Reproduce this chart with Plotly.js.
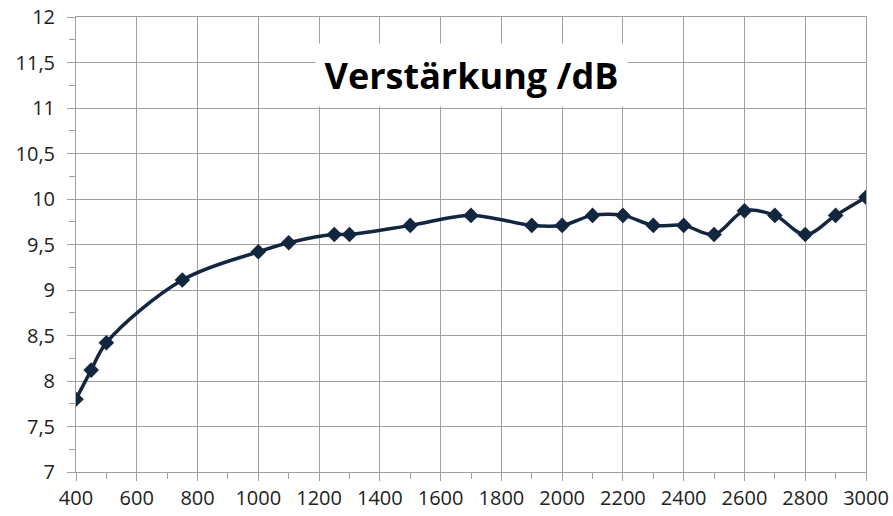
<!DOCTYPE html>
<html>
<head>
<meta charset="utf-8">
<script src="https://cdn.plot.ly/plotly-3.0.1.min.js"></script>
<style>html,body{margin:0;padding:0;background:#fff;}#chart{width:893px;height:516px;}</style>
</head>
<body>
<div id="chart"></div>
<script>
const frequencies = [400, 450, 500, 750, 1000, 1100, 1250, 1300, 1500, 1700, 1900, 2000, 2100, 2200, 2300, 2400, 2500, 2600, 2700, 2800, 2900, 3000];
const gainDb = [7.8, 8.12, 8.42, 9.11, 9.42, 9.52, 9.61, 9.61, 9.71, 9.82, 9.71, 9.71, 9.82, 9.82, 9.71, 9.71, 9.61, 9.87, 9.82, 9.61, 9.82, 10.02];
const chartTitle = 'Verstärkung /dB';

const trace = {
  x: frequencies,
  y: gainDb,
  type: 'scatter',
  mode: 'lines+markers',
  line: {shape: 'spline', smoothing: 1, color: '#12263f', width: 3.5},
  marker: {symbol: 'diamond', size: 12, color: '#12263f'},
  hoverinfo: 'skip'
};

const gridColor = '#a0a0a0';
const layout = {
  width: 893, height: 516,
  margin: {l: 76, r: 27, t: 17, b: 44},
  paper_bgcolor: '#ffffff', plot_bgcolor: '#ffffff',
  separators: ',.',
  showlegend: false,
  font: {family: 'Open Sans, sans-serif', size: 20, color: '#222222'},
  xaxis: {
    range: [400, 3000], dtick: 200, tick0: 400,
    showgrid: true, gridcolor: gridColor, gridwidth: 1,
    showline: true, linecolor: gridColor, linewidth: 1, mirror: true,
    zeroline: false,
    ticks: 'outside', ticklen: 8, tickcolor: gridColor,
    minor: {dtick: 100, ticks: 'outside', ticklen: 6, tickcolor: gridColor, showgrid: false},
    tickfont: {size: 20, color: '#222222'},
    fixedrange: true
  },
  yaxis: {
    range: [7, 12], dtick: 0.5, tick0: 7,
    showgrid: true, gridcolor: gridColor, gridwidth: 1,
    showline: true, linecolor: gridColor, linewidth: 1, mirror: true,
    zeroline: false,
    ticks: 'outside', ticklen: 8, tickcolor: gridColor,
    minor: {dtick: 0.25, ticks: 'outside', ticklen: 6, tickcolor: gridColor, showgrid: false},
    tickfont: {size: 20, color: '#222222'},
    ticklabelstandoff: 8,
    fixedrange: true
  },
  annotations: [{
    text: '<b>' + chartTitle + '</b>',
    xref: 'paper', yref: 'paper', x: 0.5, y: 0.8725,
    xanchor: 'center', yanchor: 'middle',
    showarrow: false,
    font: {family: 'Open Sans, sans-serif', size: 36, color: '#000000'},
    bgcolor: '#ffffff', width: 311, height: 62, borderpad: 0
  }]
};

Plotly.newPlot('chart', [trace], layout, {staticPlot: true, displayModeBar: false});
</script>
</body>
</html>
